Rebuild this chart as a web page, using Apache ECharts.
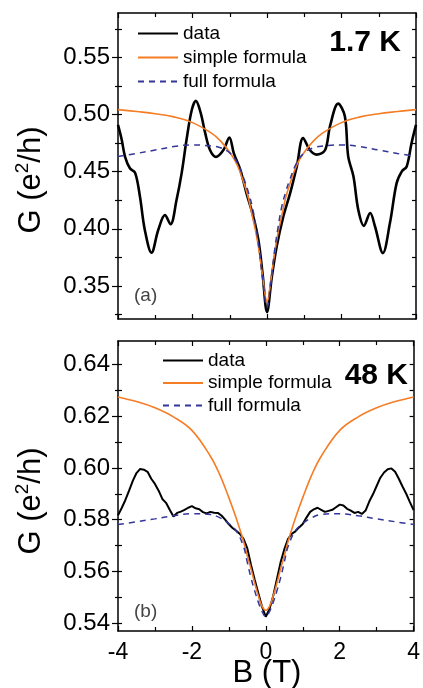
<!DOCTYPE html>
<html>
<head>
<meta charset="utf-8">
<script src="https://cdn.jsdelivr.net/npm/echarts@6/dist/echarts.min.js"></script>
<style>
  html, body { margin: 0; padding: 0; background: #fff; }
  #chart { width: 423px; height: 688px; }
</style>
</head>
<body>
<div id="chart"></div>
<script>
// panel (a) 1.7 K
const topDataB = [-4.00, -3.90, -3.81, -3.68, -3.54, -3.41, -3.28, -3.10, -2.92, -2.74, -2.59, -2.43, -2.29, -2.16, -2.02, -1.91, -1.78, -1.66, -1.53, -1.37, -1.17, -1.01, -0.89, -0.72, -0.55, -0.37, -0.23, -0.12, 0,
  0.13, 0.26, 0.44, 0.62, 0.80, 0.97, 1.15, 1.33, 1.56, 1.69, 1.91, 2.09, 2.18, 2.32, 2.45, 2.60, 2.77, 2.90, 3.11, 3.30, 3.48, 3.62, 3.75, 3.88, 4.00];
const topDataG = [0.491, 0.478, 0.463, 0.453, 0.449, 0.428, 0.399, 0.379, 0.399, 0.412, 0.404, 0.425, 0.449, 0.478, 0.504, 0.512, 0.5015, 0.484, 0.469, 0.463, 0.469, 0.480, 0.466, 0.452, 0.431, 0.411, 0.390, 0.361, 0.327,
  0.358, 0.3845, 0.411, 0.431, 0.4546, 0.4795, 0.469, 0.465, 0.469, 0.4897, 0.5096, 0.4985, 0.4634, 0.446, 0.4167, 0.4026, 0.4138, 0.402, 0.3787, 0.405, 0.440, 0.4503, 0.4546, 0.475, 0.491];

const fitB = [-4, -3.5, -3, -2.5, -2, -1.5, -1.25, -1, -0.8, -0.6, -0.5, -0.4, -0.3, -0.2, -0.1, 0, 0.1, 0.2, 0.3, 0.4, 0.5, 0.6, 0.8, 1, 1.25, 1.5, 2, 2.5, 3, 3.5, 4];
const topSimple = [0.5044, 0.5027, 0.5008, 0.498, 0.493, 0.484, 0.477, 0.467, 0.456, 0.438, 0.427, 0.412, 0.397, 0.378, 0.354, 0.336,
  0.354, 0.378, 0.397, 0.412, 0.427, 0.438, 0.456, 0.467, 0.477, 0.484, 0.493, 0.498, 0.5008, 0.5027, 0.5044];
const topFull = [0.4634, 0.466, 0.469, 0.472, 0.4735, 0.4725, 0.471, 0.4665, 0.458, 0.442, 0.432, 0.420, 0.402, 0.380, 0.352, 0.331,
  0.352, 0.380, 0.402, 0.420, 0.432, 0.442, 0.458, 0.4665, 0.471, 0.4725, 0.4735, 0.472, 0.469, 0.466, 0.4634];

// panel (b) 48 K
const botDataB = [-4.0, -3.9, -3.8, -3.7, -3.6, -3.5, -3.4, -3.3, -3.2, -3.1, -3.0, -2.9, -2.8, -2.7, -2.6, -2.5, -2.4, -2.3, -2.2, -2.1, -2.0,
  -1.9, -1.8, -1.7, -1.6, -1.5, -1.4, -1.3, -1.2, -1.1, -1.0, -0.9, -0.8, -0.7, -0.6, -0.5, -0.4, -0.3, -0.2, -0.1, 0,
  0.1, 0.2, 0.3, 0.4, 0.5, 0.6, 0.7, 0.8, 0.9, 1.0, 1.1, 1.2, 1.3, 1.4, 1.5, 1.6, 1.7, 1.8, 1.9, 2.0,
  2.1, 2.2, 2.3, 2.4, 2.5, 2.6, 2.7, 2.8, 2.9, 3.0, 3.1, 3.2, 3.3, 3.4, 3.5, 3.6, 3.7, 3.8, 3.9, 4.0];
const botDataG = [0.5817, 0.5845, 0.5876, 0.5912, 0.5950, 0.5980, 0.5996, 0.5993, 0.5985, 0.5958, 0.5938, 0.5912, 0.5880, 0.5865, 0.5838, 0.5812, 0.5826, 0.5831, 0.5838, 0.5846, 0.5852,
  0.5844, 0.5840, 0.5829, 0.5824, 0.5830, 0.5827, 0.5826, 0.5816, 0.5800, 0.5782, 0.5768, 0.5757, 0.5745, 0.5725, 0.5689, 0.5625, 0.5568, 0.5515, 0.5463, 0.5425,
  0.5455, 0.5505, 0.5570, 0.5635, 0.5685, 0.5725, 0.5745, 0.5755, 0.5770, 0.5783, 0.5808, 0.5830, 0.5840, 0.5846, 0.5838, 0.5830, 0.5834, 0.5838, 0.5848, 0.5858,
  0.5855, 0.5842, 0.5835, 0.5826, 0.5830, 0.5822, 0.5835, 0.5870, 0.5898, 0.5930, 0.5962, 0.5982, 0.5995, 0.5998, 0.5985, 0.5958, 0.5928, 0.5900, 0.5868, 0.5837];
const botSimple = [0.6274, 0.6256, 0.6232, 0.6197, 0.6145, 0.6045, 0.5975, 0.5885, 0.5805, 0.5715, 0.566, 0.561, 0.5555, 0.5505, 0.5465, 0.545,
  0.5465, 0.5505, 0.5555, 0.561, 0.566, 0.5715, 0.5805, 0.5885, 0.5975, 0.6045, 0.6145, 0.6197, 0.6232, 0.6256, 0.6274];
const botFull = [0.5781, 0.5792, 0.5803, 0.5815, 0.5823, 0.582, 0.5808, 0.5785, 0.5757, 0.5695, 0.5635, 0.5575, 0.5525, 0.548, 0.5445, 0.5425,
  0.5445, 0.548, 0.5525, 0.5575, 0.5635, 0.5695, 0.5757, 0.5785, 0.5808, 0.582, 0.5823, 0.5815, 0.5803, 0.5792, 0.5781];

const topMajor = [0.35, 0.40, 0.45, 0.50, 0.55];
const topMinor = [0.325, 0.375, 0.425, 0.475, 0.525, 0.575];
const botMajor = [0.54, 0.56, 0.58, 0.60, 0.62, 0.64];
const botMinor = [0.55, 0.57, 0.59, 0.61, 0.63];

const FONT = '"Liberation Sans", Arial, sans-serif';
const ORANGE = '#f47d25';
const BLUE = '#34379a';
const zip = (xs, ys) => xs.map((x, i) => [x, ys[i]]);

function xAxes(gi, labels) {
  const base = {
    gridIndex: gi, type: 'value', min: -4, max: 4, interval: 2,
    axisLine: { onZero: false, lineStyle: { color: '#000', width: 1.5 } },
    axisTick: { inside: true, length: 5, lineStyle: { color: '#000', width: 1.2 } },
    minorTick: { show: true, splitNumber: 2, length: 4, lineStyle: { color: '#000', width: 1.2 } },
    splitLine: { show: false }
  };
  return [
    Object.assign({}, base, { position: 'bottom',
      axisLabel: { show: labels, fontSize: 23, margin: 10, color: '#000', fontFamily: FONT } }),
    Object.assign({}, base, { position: 'top', axisLabel: { show: false } })
  ];
}

function yAxes(gi, min, max, major, minor) {
  const line = { color: '#000', width: 1.5 };
  const tk = { color: '#000', width: 1.2 };
  const base = { gridIndex: gi, type: 'value', min: min, max: max, splitLine: { show: false } };
  const all = major.concat(minor);
  return [
    Object.assign({}, base, { position: 'left',
      axisLine: { show: true, onZero: false, lineStyle: line },
      axisTick: { show: true, inside: false, length: 6, customValues: major, lineStyle: tk },
      axisLabel: { show: true, customValues: major, fontSize: 24, margin: 8, color: '#000', fontFamily: FONT,
        formatter: v => v.toFixed(2) } }),
    Object.assign({}, base, { position: 'left',
      axisLine: { show: false, onZero: false },
      axisTick: { show: true, inside: true, length: 4, customValues: all, lineStyle: tk },
      axisLabel: { show: false } }),
    Object.assign({}, base, { position: 'left',
      axisLine: { show: false, onZero: false },
      axisTick: { show: true, inside: false, length: 3, customValues: minor, lineStyle: tk },
      axisLabel: { show: false } }),
    Object.assign({}, base, { position: 'right',
      axisLine: { show: true, onZero: false, lineStyle: line },
      axisTick: { show: true, inside: true, length: 4, customValues: all, lineStyle: tk },
      axisLabel: { show: false } })
  ];
}

function panelSeries(gi, dataB, dataG, simple, full, dataWidth) {
  const common = { type: 'line', xAxisIndex: 2 * gi, yAxisIndex: 4 * gi, symbol: 'none', silent: true };
  return [
    Object.assign({}, common, { name: 'data', data: zip(dataB, dataG), smooth: gi === 0 ? 0.35 : false,
      lineStyle: { color: '#000', width: dataWidth }, itemStyle: { color: '#000' } }),
    Object.assign({}, common, { name: 'simple formula', data: zip(fitB, simple), smooth: 0.4,
      lineStyle: { color: ORANGE, width: 1.6 }, itemStyle: { color: ORANGE } }),
    Object.assign({}, common, { name: 'full formula', data: zip(fitB, full), smooth: 0.4,
      lineStyle: { color: BLUE, width: 1.5, type: [6, 5] }, itemStyle: { color: BLUE } })
  ];
}

function legendAt(left, top, gap) {
  return {
    left: left, top: top, orient: 'vertical', padding: 0, itemGap: gap,
    itemWidth: 40, itemHeight: 14, selectedMode: false,
    itemStyle: { opacity: 0 },
    data: ['data', 'simple formula', 'full formula'],
    textStyle: { fontSize: 19, lineHeight: 18, color: '#000', fontFamily: FONT }
  };
}

function gLabel(y) {
  return { type: 'text', x: 31, y: y, rotation: Math.PI / 2,
    style: { text: '{n|G (e}{s|2}{n|/h)}', fontFamily: FONT, fill: '#000', align: 'center', verticalAlign: 'middle',
      rich: {
        n: { fontSize: 31, lineHeight: 36, fontFamily: FONT, fill: '#000' },
        s: { fontSize: 19, verticalAlign: 'top', fontFamily: FONT, fill: '#000' }
      } } };
}

const chart = echarts.init(document.getElementById('chart'));
chart.setOption({
  animation: false,
  backgroundColor: '#fff',
  grid: [
    { left: 118, top: 13, width: 298, height: 306 },
    { left: 118, top: 341, width: 298, height: 290 }
  ],
  xAxis: xAxes(0, false).concat(xAxes(1, true)),
  yAxis: yAxes(0, 0.321, 0.589, topMajor, topMinor).concat(yAxes(1, 0.537, 0.649, botMajor, botMinor)),
  legend: [legendAt(137, 24, 5), legendAt(162, 351, 3.5)],
  series: panelSeries(0, topDataB, topDataG, topSimple, topFull, 2.6)
    .concat(panelSeries(1, botDataB, botDataG, botSimple, botFull, 2)),
  graphic: [
    { type: 'text', x: 401, y: 43, style: { text: '1.7 K', fontSize: 30, fontWeight: 'bold', fontFamily: FONT, fill: '#000', align: 'right', verticalAlign: 'middle' } },
    { type: 'text', x: 408, y: 376, style: { text: '48 K', fontSize: 30, fontWeight: 'bold', fontFamily: FONT, fill: '#000', align: 'right', verticalAlign: 'middle' } },
    { type: 'text', x: 134, y: 296, style: { text: '(a)', fontSize: 19, fontFamily: FONT, fill: '#444', align: 'left', verticalAlign: 'middle' } },
    { type: 'text', x: 134, y: 612, style: { text: '(b)', fontSize: 19, fontFamily: FONT, fill: '#444', align: 'left', verticalAlign: 'middle' } },
    gLabel(180),
    gLabel(501),
    { type: 'text', x: 267, y: 673, style: { text: 'B (T)', fontSize: 31, fontFamily: FONT, fill: '#000', align: 'center', verticalAlign: 'middle' } }
  ]
});
</script>
</body>
</html>
